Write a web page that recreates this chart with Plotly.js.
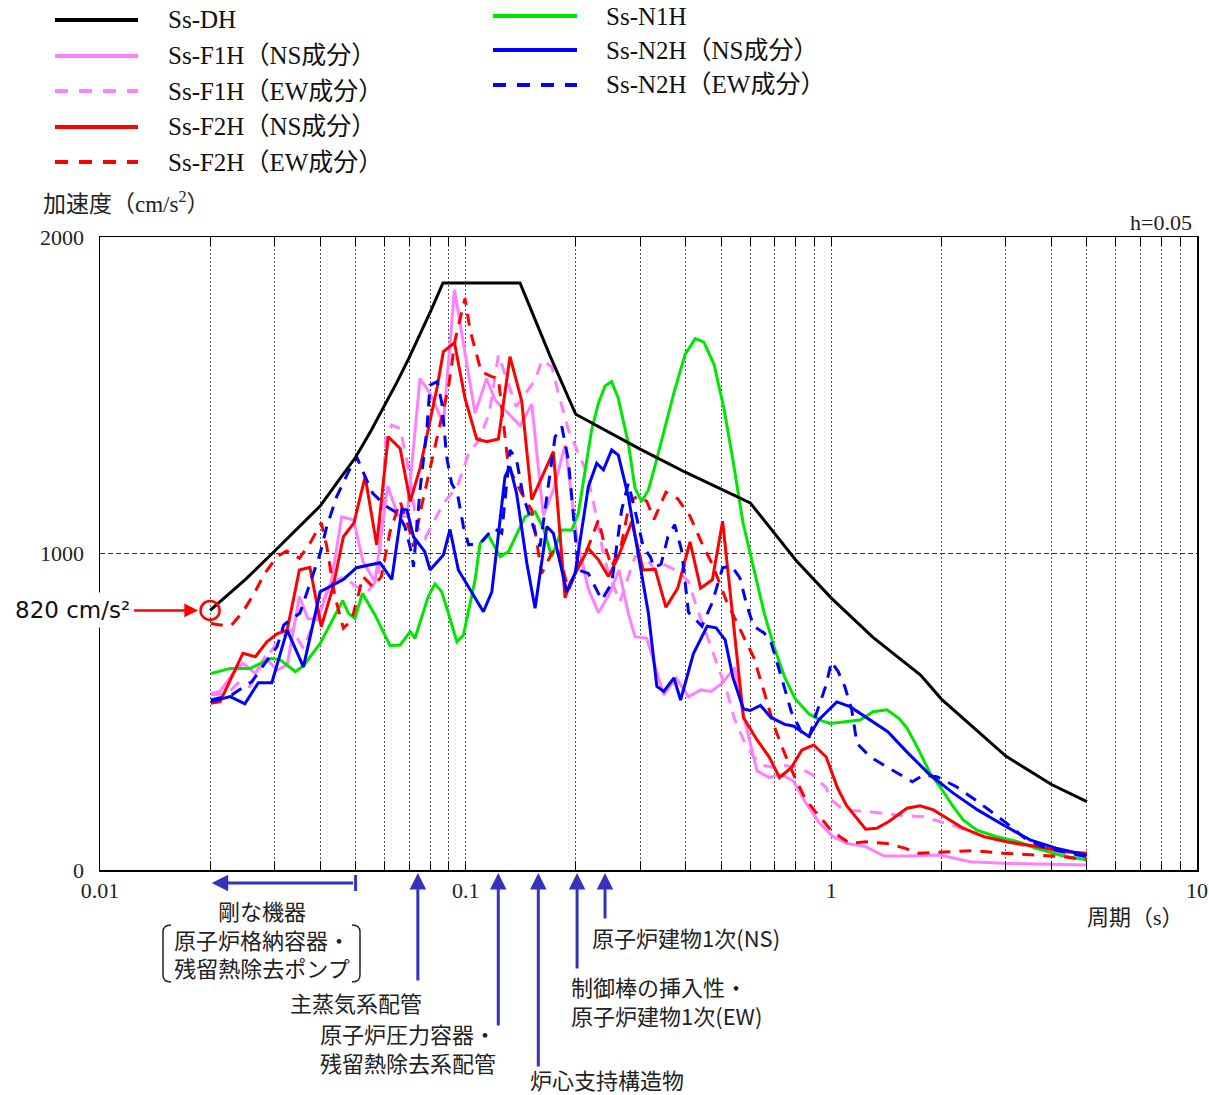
<!DOCTYPE html>
<html><head><meta charset="utf-8">
<script src="https://cdn.plot.ly/plotly-3.0.1.min.js"></script>
<style>html,body{margin:0;padding:0;background:#fff;}#chart{width:1209px;height:1095px;}</style>
</head><body><div id="chart"></div>
<script>
// ---------------- data (period s, acceleration cm/s2) ----------------
const dhT = [0.02,0.022,0.025,0.03,0.035,0.04,0.045,0.05,0.055,0.06,0.065,0.07,0.075,0.08,0.0867,0.1408,0.17,0.2,0.3,0.4,0.6,0.8,1.0,1.3,1.754,2,3,4,5];
const dhA = [820,861,918,1007,1085,1150,1232,1304,1386,1466,1543,1618,1691,1763,1855,1855,1625,1440,1330,1256,1160,979,859,735,616,540,360,270,216];

const f1nsT = [0.0201,0.0213,0.0231,0.0246,0.0266,0.0282,0.0305,0.0325,0.0351,0.0370,0.0393,0.0430,0.0458,0.0494,0.0524,0.0565,0.0612,0.0652,0.0691,0.0720,0.0750,0.0799,0.0869,0.0932,0.0996,0.1061,0.1141,0.1203,0.1294,0.1408,0.1516,0.1631,0.1737,0.1870,0.2020,0.2165,0.2307,0.2466,0.2627,0.2785,0.2905,0.3128,0.3481,0.3763,0.4067,0.4390,0.4693,0.5043,0.5437,0.5750,0.6265,0.6763,0.7300,0.7870,0.8475,0.9260,1.009,1.101,1.241,1.396,1.610,1.983,2.395,2.953,3.650,5.0];
const f1nsA = [558,564,621,653,621,672,632,648,864,795,790,916,1116,1106,974,911,1213,1122,1116,1337,1553,1506,1411,1833,1630,1443,1553,1485,1448,1404,1472,1120,1201,1342,1038,888,813,870,948,811,737,732,553,607,547,569,564,591,640,488,313,292,302,281,216,150,106,84,74,44,44,47,26,21,19,16];

const f1ewT = [0.0201,0.0224,0.0238,0.0257,0.0277,0.0310,0.0335,0.0360,0.0390,0.0425,0.0463,0.0503,0.0540,0.0577,0.0605,0.0628,0.0662,0.0702,0.0735,0.0775,0.0869,0.0949,0.1019,0.1088,0.1160,0.1229,0.1375,0.1548,0.1618,0.1720,0.1793,0.1911,0.2033,0.2149,0.2268,0.2370,0.2457,0.2560,0.2643,0.2905,0.3085,0.3300,0.3481,0.3800,0.4067,0.4268,0.4508,0.4840,0.5182,0.5437,0.5750,0.6133,0.6546,0.6970,0.7452,0.8126,0.8855,0.9681,0.9917,1.080,1.276,1.514,1.785,1.983,2.199,2.550,3.014,3.650,4.307,5.0];
const f1ewA = [553,558,590,579,650,730,760,700,800,900,927,895,880,922,1369,1406,1395,1253,1085,1048,1159,1211,1317,1359,1443,1627,1464,1548,1611,1590,1506,1390,1317,1253,1127,1011,937,885,848,990,990,948,966,944,912,836,760,662,564,477,411,357,330,324,330,324,302,260,225,190,184,174,168,153,137,111,89,68,53,42];

const f2nsT = [0.0201,0.0213,0.0246,0.0266,0.0286,0.0305,0.0325,0.0351,0.0375,0.0403,0.0434,0.0463,0.0495,0.0531,0.0571,0.0614,0.0662,0.0705,0.0750,0.0799,0.0836,0.0869,0.0932,0.0996,0.1072,0.1141,0.1229,0.1322,0.1423,0.1516,0.1737,0.1870,0.1929,0.2165,0.2307,0.2457,0.2615,0.2845,0.3057,0.3300,0.3529,0.3800,0.4107,0.4390,0.4727,0.5043,0.5750,0.6265,0.6763,0.7216,0.7782,0.8308,0.8950,0.9681,1.040,1.100,1.241,1.330,1.437,1.610,1.748,1.902,2.067,2.294,2.619,3.014,3.650,4.307,5.0];
const f2nsA = [527,532,685,674,721,746,758,948,956,769,895,1053,1097,1243,1027,1369,1332,1164,1269,1422,1527,1638,1666,1490,1362,1353,1362,1622,1482,1170,1322,860,906,1016,980,927,990,1101,948,950,830,890,1037,890,917,1102,482,411,357,292,324,379,395,357,259,204,129,132,153,195,203,190,163,132,105,89,74,58,53];

const f2ewT = [0.0201,0.0213,0.0229,0.0246,0.0264,0.0282,0.0305,0.0324,0.0351,0.0375,0.0403,0.0417,0.0439,0.0463,0.0488,0.0524,0.0557,0.0588,0.0621,0.0662,0.0702,0.0720,0.0757,0.0808,0.0851,0.0898,0.0936,0.0996,0.1028,0.1103,0.1179,0.1229,0.1309,0.1423,0.1516,0.1614,0.1720,0.1775,0.1911,0.2033,0.2165,0.2307,0.2405,0.2508,0.2670,0.2815,0.2964,0.3128,0.3274,0.3529,0.3800,0.4107,0.4427,0.4727,0.5182,0.5623,0.6133,0.6546,0.6970,0.7452,0.7952,0.8475,0.9062,0.9917,1.056,1.125,1.242,1.417,1.587,1.733,2.067,2.455,2.953,3.650,4.307,5.0];
const f2ewA = [779,774,774,816,874,937,990,1008,985,1032,1097,1022,864,764,790,927,895,927,1069,1164,1074,1022,1148,1295,1411,1527,1675,1806,1706,1574,1559,1553,1274,1190,1137,937,1001,1022,885,958,1022,1106,1022,958,1032,1169,1180,1165,1108,1194,1173,1118,1032,966,846,760,672,564,455,368,292,226,183,130,105,84,89,84,69,53,58,61,53,47,42,32];

const n1T = [0.0201,0.0227,0.0257,0.0295,0.0311,0.0342,0.0360,0.0400,0.0461,0.0478,0.0498,0.0522,0.0565,0.0621,0.0662,0.0705,0.0727,0.0790,0.0824,0.0860,0.0897,0.0946,0.0986,0.1061,0.1095,0.1154,0.1242,0.1309,0.1453,0.1548,0.1631,0.1720,0.1831,0.1950,0.2033,0.2210,0.2307,0.2405,0.2508,0.2615,0.2785,0.2905,0.3030,0.3160,0.3300,0.3487,0.3715,0.3985,0.4243,0.4483,0.4780,0.5090,0.5385,0.5734,0.6146,0.6545,0.6970,0.7467,0.7952,0.8690,0.9430,0.9917,1.198,1.300,1.420,1.530,1.611,1.715,1.862,1.983,2.155,2.294,2.503,2.830,3.220,3.650,4.307,5.0];
const n1A = [621,637,637,669,664,627,645,716,851,811,795,874,806,709,711,753,732,864,904,879,811,721,742,916,1032,1058,990,1006,1116,1132,1080,990,1074,1074,1127,1390,1475,1529,1543,1490,1348,1206,1164,1201,1280,1390,1510,1630,1679,1668,1597,1456,1293,1097,944,814,705,607,542,493,471,463,474,500,506,479,448,390,306,263,200,158,126,105,90,68,44,32];

const n2nsT = [0.0201,0.0227,0.0249,0.0271,0.0295,0.0325,0.0360,0.0400,0.0463,0.0503,0.0583,0.0628,0.0669,0.0691,0.0720,0.0773,0.0799,0.0869,0.0906,0.0955,0.1118,0.1179,0.1281,0.1322,0.1378,0.1470,0.1548,0.1667,0.1737,0.1890,0.1992,0.2165,0.2283,0.2381,0.2508,0.2615,0.2785,0.2938,0.3160,0.3333,0.3481,0.3712,0.3870,0.4197,0.4575,0.4840,0.5123,0.5385,0.5750,0.6000,0.6402,0.6836,0.7452,0.7870,0.8680,0.9260,1.035,1.125,1.242,1.427,1.606,1.862,2.160,2.512,2.953,3.494,4.115,5.0];
const n2nsA = [532,548,525,592,592,758,642,879,918,955,971,918,1140,1137,1053,1006,948,995,1076,948,816,879,1243,1274,1190,969,827,1085,1064,879,937,1211,1285,1264,1327,1311,1180,1022,811,580,564,607,537,684,770,765,727,607,509,504,520,482,460,455,422,476,531,516,484,437,374,300,242,190,142,95,69,47];

const n2ewT = [0.0201,0.0229,0.0260,0.0305,0.0318,0.0331,0.0352,0.0375,0.0400,0.0417,0.0444,0.0478,0.0503,0.0531,0.0557,0.0609,0.0652,0.0682,0.0712,0.0720,0.0750,0.0783,0.0799,0.0836,0.0861,0.0887,0.0915,0.0949,0.0986,0.1019,0.1095,0.1191,0.1255,0.1322,0.1378,0.1437,0.1548,0.1597,0.1756,0.1832,0.1909,0.2033,0.2165,0.2356,0.2508,0.2670,0.2785,0.2905,0.3057,0.3203,0.3274,0.3422,0.3574,0.3730,0.3895,0.4067,0.4247,0.4427,0.4727,0.5043,0.5328,0.5623,0.5875,0.6133,0.6546,0.6835,0.7452,0.7782,0.8308,0.8680,0.9062,0.9681,1.0005,1.044,1.089,1.137,1.175,1.276,1.417,1.666,1.785,1.941,2.199,2.550,3.014,3.425,3.890,5.0];
const n2ewA = [537,553,595,706,774,790,811,906,1000,1085,1180,1258,1306,1243,1190,1148,1127,1085,1000,958,1200,1390,1532,1543,1474,1306,1222,1190,1085,1027,1032,1080,1064,1327,1295,1180,1064,1022,1369,1401,1295,948,937,853,906,1137,1222,1137,1022,988,955,966,1053,1091,1010,814,792,770,846,955,961,923,836,770,749,721,574,498,433,417,488,585,658,627,579,506,400,358,326,279,300,295,263,211,148,95,69,42];

// marked point on Ss-DH
const markT = [0.02];
const markA = [820];

// tick labels
const xTickVals = [0.01,0.02,0.03,0.04,0.05,0.06,0.07,0.08,0.09,0.1,0.2,0.3,0.4,0.5,0.6,0.7,0.8,0.9,1,2,3,4,5,6,7,8,9,10];
const xTickText = ['0.01','','','','','','','','','0.1','','','','','','','','','1','','','','','','','','','10'];
const yTickVals = [0,1000,2000];
const yTickText = ['0','1000','2000'];

// legend names
const names = ['Ss-DH','Ss-F1H（NS成分）','Ss-F1H（EW成分）','Ss-F2H（NS成分）','Ss-F2H（EW成分）','Ss-N1H','Ss-N2H（NS成分）','Ss-N2H（EW成分）'];

// period annotations
const noteT = [0.074,0.1228,0.158,0.2017,0.2405];

// ---------------- styles ----------------
const PINK='#ff80ff', RED='#ff0000', GREEN='#00e600', BLUE='#0000ff', BLACK='#000000';
const DASH='12px,9px';
const seriesX=[dhT,f1nsT,f1ewT,f2nsT,f2ewT,n1T,n2nsT,n2ewT];
const seriesY=[dhA,f1nsA,f1ewA,f2nsA,f2ewA,n1A,n2nsA,n2ewA];
const colors=[BLACK,PINK,PINK,RED,RED,GREEN,BLUE,BLUE];
const dashes=['solid','solid',DASH,'solid',DASH,'solid','solid',DASH];

const traces=[];
const order=[1,2,5,3,4,6,7,0];
order.forEach(i=>{
  traces.push({x:seriesX[i],y:seriesY[i],type:'scatter',mode:'lines',name:names[i],
    line:{color:colors[i],width:3,dash:dashes[i]},showlegend:false,hoverinfo:'skip'});
});
traces.push({x:markT,y:markA,type:'scatter',mode:'markers',showlegend:false,cliponaxis:false,
  marker:{symbol:'circle-open',size:19,color:RED,line:{width:2.5,color:RED}}});

// paper coordinate helpers for decorations
const W=1097,H=633,L=100,B=870;
const px=v=>(v-L)/W, py=v=>(B-v)/H;

const shapes=[], annotations=[];
// custom legend
const legRows=[[0,55,138,167,20],[1,55,138,167,56],[2,55,138,167,91],[3,55,138,167,127],[4,55,138,167,162],
               [5,493,577,605,16],[6,493,577,605,50],[7,493,577,605,85]];
legRows.forEach(r=>{
  const i=r[0];
  shapes.push({type:'line',xref:'paper',yref:'paper',x0:px(r[1]),x1:px(r[2]),y0:py(r[4]),y1:py(r[4]),
    line:{color:colors[i],width:4,dash:dashes[i]==='solid'?'solid':'13px,11px'}});
  annotations.push({xref:'paper',yref:'paper',x:px(r[3]),y:py(r[4]),xanchor:'left',yanchor:'middle',
    text:names[i],showarrow:false,borderpad:0,font:{size:25,family:'Liberation Serif, Noto Sans CJK JP',color:'#111'}});
});

// titles
annotations.push({xref:'paper',yref:'paper',x:px(42),y:py(203),xanchor:'left',yanchor:'middle',showarrow:false,borderpad:0,
  text:'加速度（cm/s<sup>2</sup>）',font:{size:23,family:'Liberation Serif, Noto Sans CJK JP',color:'#222'}});
annotations.push({xref:'paper',yref:'paper',x:px(1193),y:py(222),xanchor:'right',yanchor:'middle',showarrow:false,borderpad:0,
  text:'h=0.05',font:{size:22,family:'Liberation Serif',color:'#222'}});
annotations.push({xref:'paper',yref:'paper',x:px(1135),y:py(917),xanchor:'center',yanchor:'middle',showarrow:false,borderpad:0,
  text:'周期（s）',font:{size:22,family:'Liberation Serif, Noto Sans CJK JP',color:'#222'}});

// 820 label with arrow
annotations.push({xref:'x',yref:'y',x:Math.log10(markT[0]),y:markA[0],text:'820 cm/s²',showarrow:true,
  axref:'pixel',ayref:'pixel',ax:-138,ay:0,arrowhead:2,arrowsize:1.1,arrowwidth:2.5,arrowcolor:RED,standoff:12,
  bgcolor:'white',borderpad:4,font:{size:23,family:'DejaVu Sans',color:'#111'}});

// blue annotation arrows
const ABLUE='#3333bb';
const JF={size:22,family:'Noto Sans CJK JP',color:'#222'};
// horizontal arrow (rigid equipment range)
annotations.push({xref:'x',yref:'paper',x:Math.log10(0.0202),y:py(883),text:'',showarrow:true,axref:'pixel',ayref:'pixel',
  ax:143,ay:0,arrowhead:2,arrowsize:1.1,arrowwidth:3,arrowcolor:ABLUE,standoff:0});
shapes.push({type:'line',xref:'x',yref:'paper',x0:0.05,x1:0.05,y0:py(875),y1:py(891),line:{color:ABLUE,width:3}});
const tails=[982,1027,1068,970,920];
noteT.forEach((t,k)=>{
  annotations.push({xref:'x',yref:'paper',x:Math.log10(t),y:py(873),text:'',showarrow:true,axref:'pixel',ayref:'pixel',
    ax:0,ay:tails[k]-873,arrowhead:2,arrowsize:1.1,arrowwidth:3,arrowcolor:ABLUE,standoff:0});
});
const notes=[
  ['剛な機器<br>原子炉格納容器・<br>残留熱除去ポンプ',262,939,'center'],
  ['主蒸気系配管',423,1002,'right'],
  ['原子炉圧力容器・<br>残留熱除去系配管',497,1047,'right'],
  ['炉心支持構造物',607,1079,'center'],
  ['制御棒の挿入性・<br>原子炉建物1次(EW)',570,1001,'left'],
  ['原子炉建物1次(NS)',591,937,'left']
];
notes.forEach(n=>annotations.push({xref:'paper',yref:'paper',x:px(n[1]),y:py(n[2]),xanchor:n[3],yanchor:'middle',align:n[3],
  showarrow:false,borderpad:0,text:n[0],font:JF}));
// brackets
function bracket(xa,xb,yt,yb){
  const r=7;
  return `M ${px(xb)},${py(yt)} Q ${px(xa)},${py(yt)} ${px(xa)},${py(yt+r)} L ${px(xa)},${py(yb-r)} Q ${px(xa)},${py(yb)} ${px(xb)},${py(yb)}`;
}
shapes.push({type:'path',xref:'paper',yref:'paper',path:bracket(163,171,925,982),line:{color:'#222',width:1.5}});
shapes.push({type:'path',xref:'paper',yref:'paper',path:bracket(360,352,925,982),line:{color:'#222',width:1.5}});

const layout={
  width:1209,height:1095,margin:{l:100,r:12,t:237,b:225},
  paper_bgcolor:'white',plot_bgcolor:'white',showlegend:false,
  font:{family:'Liberation Serif, Noto Sans CJK JP',color:'#222',size:22},
  xaxis:{type:'log',range:[-2,1],tickmode:'array',tickvals:xTickVals,ticktext:xTickText,ticks:'inside',ticklen:9,
    tickcolor:'#000',tickwidth:1,showline:true,linecolor:'#000',linewidth:1.5,mirror:'allticks',
    showgrid:true,gridcolor:'#555',griddash:'2px,2px',gridwidth:1,zeroline:false,
    tickfont:{size:22,family:'Liberation Serif'},ticklabelstandoff:0},
  yaxis:{range:[0,2000],tickmode:'array',tickvals:yTickVals,ticktext:yTickText,ticks:'',showline:true,linecolor:'#000',
    linewidth:1.5,mirror:true,showgrid:true,gridcolor:'#333',griddash:'5px,3px',gridwidth:1,zeroline:false,
    tickfont:{size:22,family:'Liberation Serif'},ticklabelstandoff:10},
  shapes:shapes,annotations:annotations
};
Plotly.newPlot('chart',traces,layout,{displayModeBar:false,staticPlot:true});
</script></body></html>
